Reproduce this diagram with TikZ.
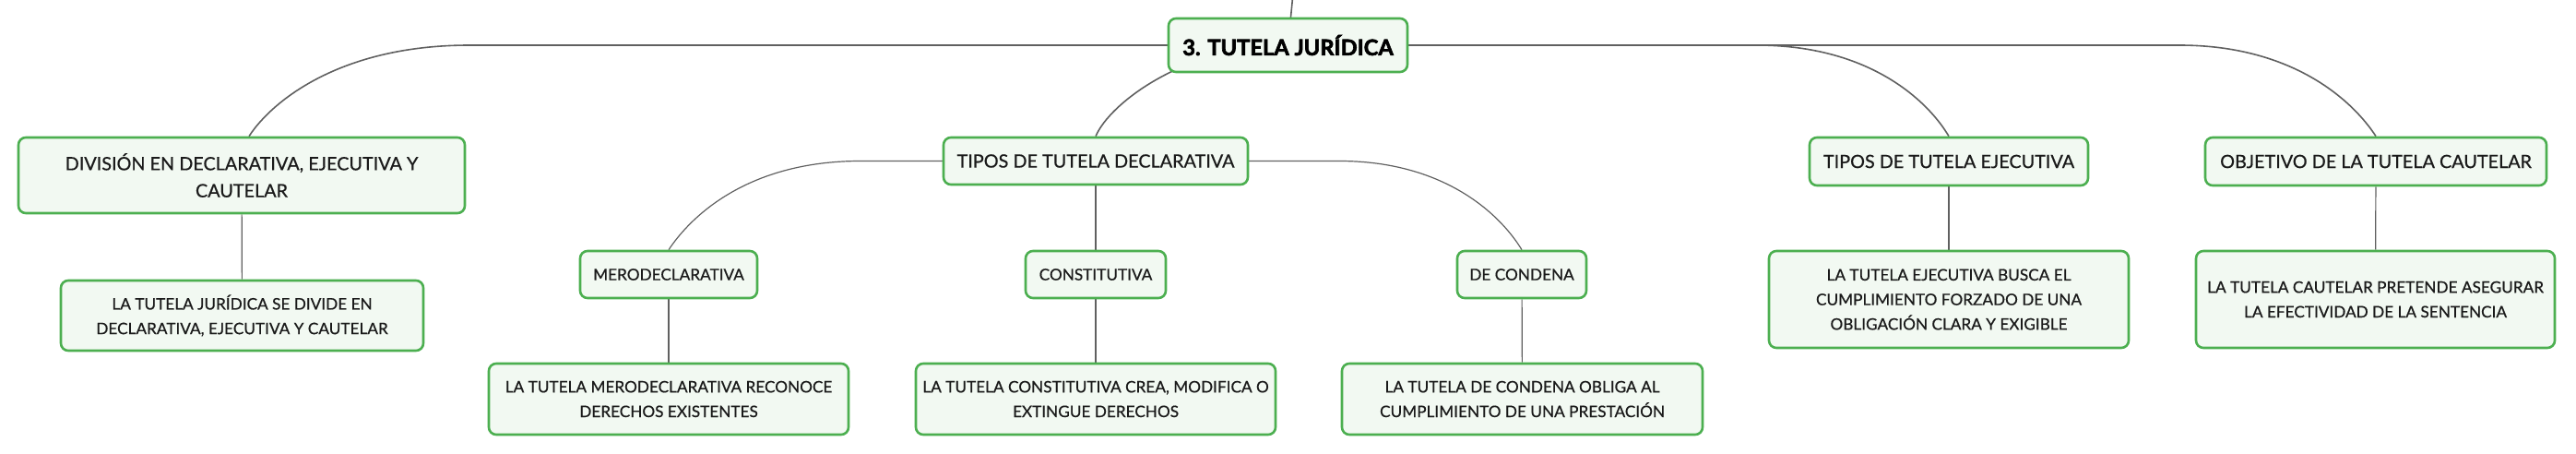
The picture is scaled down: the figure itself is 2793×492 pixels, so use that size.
\documentclass[tikz,border=0pt]{standalone}
\usepackage{fontspec}
\setmainfont{Lato}
\newfontfamily\medfont[FakeBold=0.6]{Lato}
\newfontfamily\heavyfont[FakeBold=2.6]{Lato}
\usetikzlibrary{backgrounds,calc}
\definecolor{bordergreen}{HTML}{4CAF50}
\definecolor{boxfill}{HTML}{F2F9F2}
\definecolor{edgegray}{HTML}{606060}
\definecolor{txt}{HTML}{1A1A1A}
\begin{document}
\begin{tikzpicture}[x=1pt,y=-1pt,
  box/.style={draw=bordergreen, fill=boxfill, line width=2.6pt, rounded corners=8pt, inner sep=0pt, align=center, text=txt},
  rootbox/.style={box, font=\fontsize{23.7}{28}\heavyfont\bfseries, text=black},
  lvlone/.style={box, font=\fontsize{19.8}{29.3}\medfont},
  leaf/.style={box, font=\fontsize{17.2}{26.7}\medfont},
  conn/.style={draw=edgegray, line width=1.2pt},
  rootconn/.style={draw=edgegray, line width=1.6pt}]
\useasboundingbox (0,0) rectangle (2793,492);
% nodes
\node[rootbox, minimum width=259pt, minimum height=58pt] (root) at (1396.5,49) {3. TUTELA JURÍDICA};
\node[lvlone, minimum width=484pt, minimum height=82pt] (A) at (262,190) {DIVISIÓN EN DECLARATIVA, EJECUTIVA Y\\CAUTELAR};
\node[leaf, minimum width=393pt, minimum height=76pt] (A1) at (262.5,342) {LA TUTELA JURÍDICA SE DIVIDE EN\\DECLARATIVA, EJECUTIVA Y CAUTELAR};
\node[lvlone, minimum width=330pt, minimum height=51pt] (B) at (1188,174.5) {TIPOS DE TUTELA DECLARATIVA};
\node[leaf, minimum width=192pt, minimum height=51pt] (mero) at (725,297.5) {MERODECLARATIVA};
\node[leaf, minimum width=152pt, minimum height=51pt] (const) at (1188,297.5) {CONSTITUTIVA};
\node[leaf, minimum width=140pt, minimum height=51pt] (dc) at (1650,297.5) {DE CONDENA};
\node[leaf, minimum width=390pt, minimum height=77pt] (mero1) at (725,432.5) {LA TUTELA MERODECLARATIVA RECONOCE\\DERECHOS EXISTENTES};
\node[leaf, minimum width=390pt, minimum height=77pt] (const1) at (1188,432.5) {LA TUTELA CONSTITUTIVA CREA, MODIFICA O\\EXTINGUE DERECHOS};
\node[leaf, minimum width=391pt, minimum height=77pt] (dc1) at (1650.5,432.5) {LA TUTELA DE CONDENA OBLIGA AL\\CUMPLIMIENTO DE UNA PRESTACIÓN};
\node[lvlone, minimum width=302pt, minimum height=52pt] (te) at (2113,175) {TIPOS DE TUTELA EJECUTIVA};
\node[lvlone, minimum width=370pt, minimum height=52pt] (obj) at (2576,175) {OBJETIVO DE LA TUTELA CAUTELAR};
\node[leaf, minimum width=390pt, minimum height=105pt] (te1) at (2113,324.5) {LA TUTELA EJECUTIVA BUSCA EL\\CUMPLIMIENTO FORZADO DE UNA\\OBLIGACIÓN CLARA Y EXIGIBLE};
\node[leaf, minimum width=389pt, minimum height=105pt] (obj1) at (2575.5,324.5) {LA TUTELA CAUTELAR PRETENDE ASEGURAR\\LA EFECTIVIDAD DE LA SENTENCIA};
\coordinate (up) at (1401.5,-2);
% connectors
\begin{scope}[on background layer]
\draw[rootconn] (root.center) -- (up);
\draw[rootconn] (root.center) -- (509,49) .. controls (366,49) and (293,112) .. ($(A.north)+(8,0)$);
\draw[rootconn] (root.center) .. controls (1285,49) and (1203,112) .. (B.north);
\draw[rootconn] (root.center) -- (1905,49) .. controls (2030,49) and (2092,112) .. (te.north);
\draw[rootconn] (root.center) -- (2363,49) .. controls (2489,49) and (2553,112) .. (obj.north);
\draw[conn] (A) -- (A1);
\draw[conn] (B.center) -- (933,174.5) .. controls (809,174.5) and (748,236) .. (mero.north);
\draw[conn] (B) -- (const);
\draw[conn] (B.center) -- (1452,174.5) .. controls (1570,174.5) and (1629,236) .. (dc.north);
\draw[conn] (mero) -- (mero1);
\draw[conn] (const) -- (const1);
\draw[conn] (dc) -- (dc1);
\draw[conn] (te) -- (te1);
\draw[conn] (obj) -- (obj1);
\end{scope}
\end{tikzpicture}
\end{document}
